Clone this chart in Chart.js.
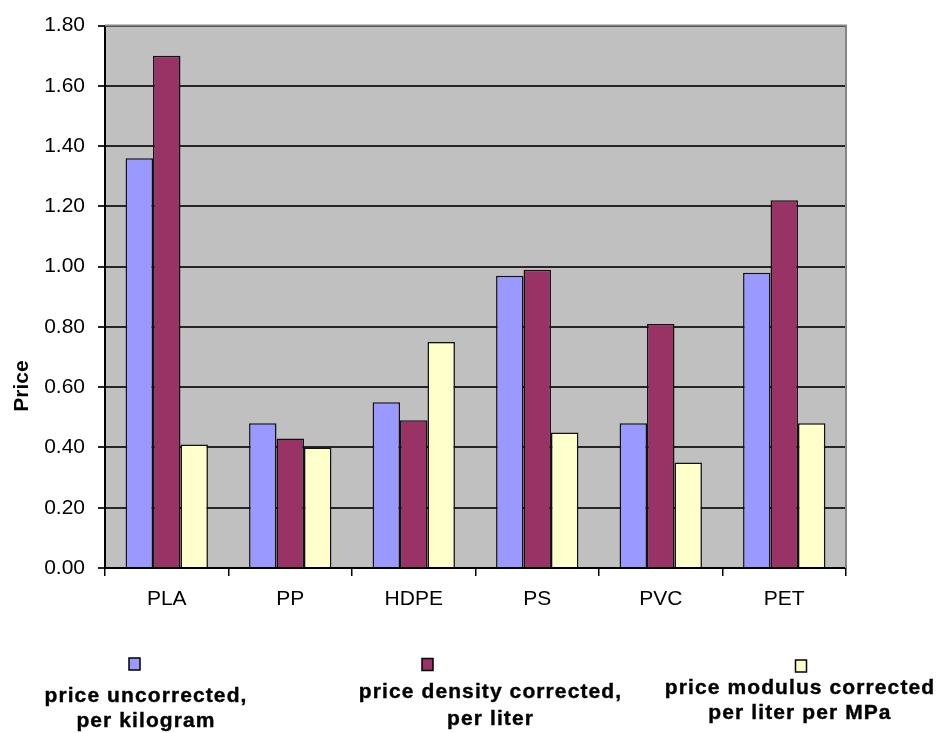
<!DOCTYPE html>
<html>
<head>
<meta charset="utf-8">
<title>Plastic price comparison</title>
<script src="https://cdn.jsdelivr.net/npm/chart.js@4.4.1/dist/chart.umd.min.js"></script>
<style>
  html, body { margin: 0; padding: 0; background: #ffffff; }
  #wrap { width: 939px; height: 733px; position: relative; }
  canvas { display: block; }
</style>
</head>
<body>
<div id="wrap"><canvas id="chart" width="939" height="733"></canvas></div>
<script>
// Materials on the category axis
const categories = ['PLA', 'PP', 'HDPE', 'PS', 'PVC', 'PET'];

// Price series
const priceUncorrected      = [1.36, 0.48, 0.55, 0.97, 0.48, 0.98];
const priceDensityCorrected = [1.70, 0.43, 0.49, 0.99, 0.81, 1.22];
const priceModulusCorrected = [0.41, 0.40, 0.75, 0.45, 0.35, 0.48];

// Value axis tick labels
const yTickLabels = ['0.00', '0.20', '0.40', '0.60', '0.80', '1.00', '1.20', '1.40', '1.60', '1.80'];

// Series names (two lines each) and axis title
const seriesNames = [
  ['price uncorrected,', 'per kilogram'],
  ['price density corrected,', 'per liter'],
  ['price modulus corrected', 'per liter per MPa']
];
const yAxisTitle = 'Price';

const seriesColors = ['#9999FF', '#993366', '#FFFFCC'];
const seriesValues = [priceUncorrected, priceDensityCorrected, priceModulusCorrected];

const FONT = '"Liberation Sans", Arial, sans-serif';

// Grey plot area background
const plotBackground = {
  id: 'plotBackground',
  beforeDraw(chart) {
    const { ctx, chartArea: a } = chart;
    ctx.save();
    ctx.fillStyle = '#C0C0C0';
    ctx.fillRect(a.left, a.top, a.right - a.left, a.bottom - a.top);
    ctx.restore();
  }
};

// Grey frame on the top and right of the plot area
const plotFrame = {
  id: 'plotFrame',
  afterDatasetsDraw(chart) {
    const { ctx, chartArea: a } = chart;
    ctx.save();
    ctx.strokeStyle = '#858585';
    ctx.lineWidth = 2;
    ctx.beginPath();
    ctx.moveTo(a.left, a.top);
    ctx.lineTo(a.right, a.top);
    ctx.lineTo(a.right, a.bottom);
    ctx.stroke();
    ctx.restore();
  }
};

// Rotated value-axis title
const axisTitlePlugin = {
  id: 'axisTitlePlugin',
  afterDraw(chart) {
    const { ctx } = chart;
    ctx.save();
    ctx.translate(22, 386);
    ctx.rotate(-Math.PI / 2);
    ctx.font = 'bold 21px ' + FONT;
    ctx.fillStyle = '#000';
    ctx.textAlign = 'center';
    ctx.textBaseline = 'middle';
    ctx.fillText(yAxisTitle, 0, 0);
    ctx.restore();
  }
};

// Legend below the chart: swatch above a two-line centred label
const legendSlots = [
  { mx: 134.5, my: 664, tx: 146, b1: 702, b2: 727 },
  { mx: 427.5, my: 664.5, tx: 490.5, b1: 698, b2: 725 },
  { mx: 801, my: 666, tx: 800, b1: 694, b2: 719 }
];
const bottomLegend = {
  id: 'bottomLegend',
  afterDraw(chart) {
    const { ctx } = chart;
    ctx.save();
    chart.data.datasets.forEach((ds, i) => {
      const s = legendSlots[i];
      ctx.fillStyle = ds.backgroundColor;
      ctx.strokeStyle = '#000';
      ctx.lineWidth = 1.5;
      ctx.fillRect(s.mx - 5.5, s.my - 6, 11, 12);
      ctx.strokeRect(s.mx - 5.5, s.my - 6, 11, 12);
      ctx.fillStyle = '#000';
      ctx.strokeStyle = '#000';
      ctx.lineWidth = 0.4;
      ctx.font = 'bold 21px ' + FONT;
      ctx.letterSpacing = '1.1px';
      ctx.textAlign = 'center';
      ctx.textBaseline = 'alphabetic';
      const lines = seriesNames[i];
      ctx.fillText(lines[0], s.tx, s.b1);
      ctx.strokeText(lines[0], s.tx, s.b1);
      ctx.fillText(lines[1], s.tx, s.b2);
      ctx.strokeText(lines[1], s.tx, s.b2);
    });
    ctx.restore();
  }
};

new Chart(document.getElementById('chart'), {
  type: 'bar',
  data: {
    labels: categories,
    datasets: seriesValues.map((vals, i) => ({
      label: seriesNames[i].join(' '),
      data: vals,
      backgroundColor: seriesColors[i],
      borderColor: '#111111',
      borderWidth: 1.5,
      categoryPercentage: 0.667,
      barPercentage: 1.0
    }))
  },
  options: {
    responsive: false,
    animation: false,
    devicePixelRatio: 1,
    layout: { padding: { top: 21, right: 93, bottom: 0, left: 0 } },
    plugins: {
      legend: { display: false },
      tooltip: { enabled: false },
      title: { display: false }
    },
    scales: {
      x: {
        offset: true,
        grid: {
          offset: true,
          drawOnChartArea: false,
          drawTicks: true,
          tickLength: 8,
          color: '#000',
          lineWidth: 1.5
        },
        border: { display: true, color: '#000', width: 2 },
        ticks: {
          color: '#000',
          font: { family: FONT, size: 21 },
          padding: 11,
          maxRotation: 0
        },
        afterFit(scale) { scale.height = 165; }
      },
      y: {
        min: 0,
        max: 1.8,
        afterBuildTicks(scale) {
          scale.ticks = yTickLabels.map(t => ({ value: parseFloat(t) }));
        },
        grid: {
          drawOnChartArea: true,
          drawTicks: true,
          tickLength: 7,
          color: '#262626',
          lineWidth: 2
        },
        border: { display: true, color: '#000', width: 2 },
        ticks: {
          color: '#000',
          font: { family: FONT, size: 21 },
          padding: 13,
          callback: (v, idx) => yTickLabels[idx]
        },
        afterFit(scale) { scale.width = 105; }
      }
    }
  },
  plugins: [plotBackground, plotFrame, axisTitlePlugin, bottomLegend]
});
</script>
</body>
</html>
